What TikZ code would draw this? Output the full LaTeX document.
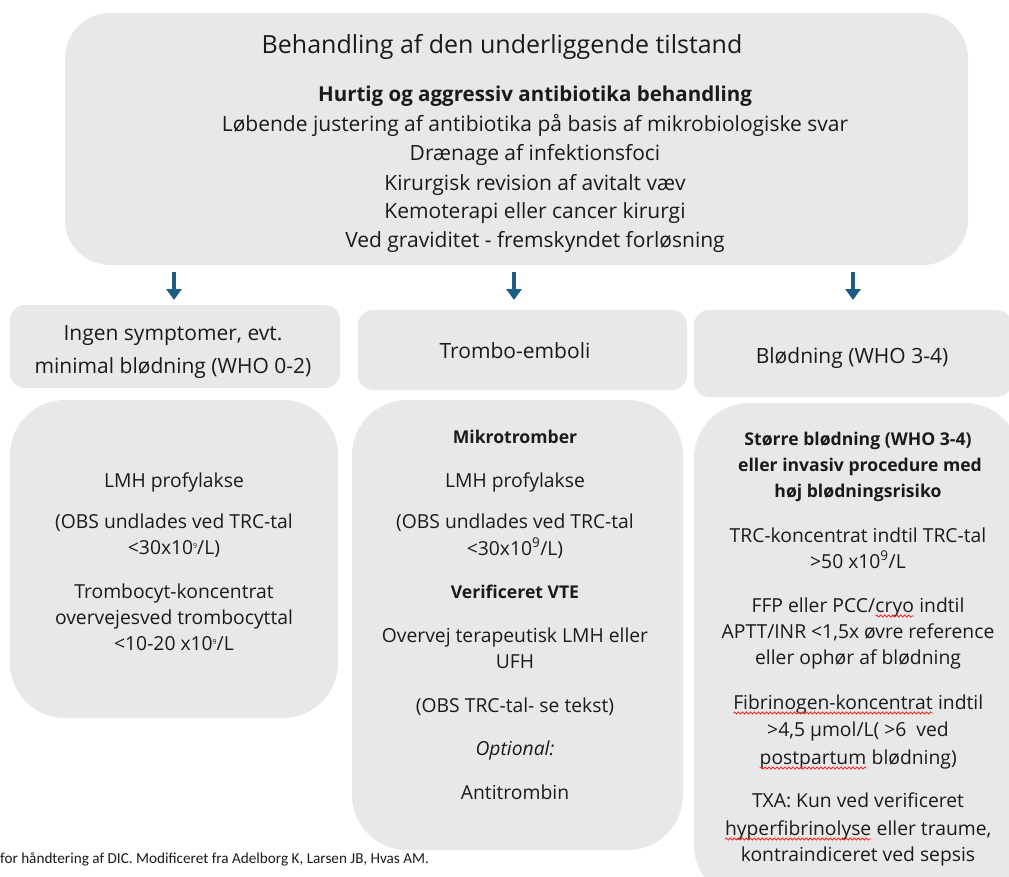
\documentclass[tikz,border=0pt]{standalone}
\usepackage{fontspec}
\setmainfont{Open Sans}
\newfontfamily\capfont{Carlito}
\usetikzlibrary{arrows.meta,decorations.pathmorphing}
\definecolor{boxgray}{HTML}{E8E8E8}
\definecolor{txtc}{HTML}{1A1A1A}
\definecolor{arrc}{HTML}{1F5C85}
\newcommand\redwave[1]{\tikz[baseline=(w.base)]{\node[inner sep=0pt,outer sep=0pt,anchor=base](w){#1};\draw[red!85!white,line width=0.8pt,decorate,decoration={snake,amplitude=1pt,segment length=4pt}] ([yshift=-4pt]w.base west) -- ([yshift=-4pt]w.base east);}}
\newcommand\tinysup[1]{\raisebox{0.55ex}{\fontsize{7}{7}\selectfont #1}}
\begin{document}
\begin{tikzpicture}[x=1pt,y=-1pt,
  box/.style={fill=boxgray,draw=none,inner sep=0,outer sep=0},
  t/.style={anchor=base,inner sep=0,text=txtc,font=\fontsize{19.3}{22}\selectfont},
  tb/.style={anchor=base,inner sep=0,text=txtc,font=\fontsize{17.6}{22}\bfseries},
  tt/.style={anchor=base,inner sep=0,text=txtc,font=\fontsize{21}{24}\selectfont},
  tm/.style={anchor=base,inner sep=0,text=txtc,font=\fontsize{21}{24}\selectfont},
  arr/.style={draw=arrc,line width=4pt,-{Triangle[length=11pt,width=15pt]}}]
\useasboundingbox (0,0) rectangle (1009,876);
\clip (0,0) rectangle (1009,876);
% boxes
\node[box,rounded corners=45pt,minimum width=903pt,minimum height=252pt] (top) at (516.5,139) {};
\node[box,rounded corners=15pt,minimum width=330pt,minimum height=83pt] (b1) at (175,346.5) {};
\node[box,rounded corners=15pt,minimum width=329pt,minimum height=80pt] (b2) at (522.5,350) {};
\node[box,rounded corners=15pt,minimum width=318pt,minimum height=87pt] (b3) at (853,353.5) {};
\node[box,rounded corners=55pt,minimum width=328pt,minimum height=318pt] (c1) at (174,559) {};
\node[box,rounded corners=55pt,minimum width=331pt,minimum height=450pt] (c2) at (517.5,625) {};
\node[box,rounded corners=55pt,minimum width=326pt,minimum height=497pt] (c3) at (857,651.5) {};
% arrows
\coordinate (a1) at (174,0);
\coordinate (a2) at (514,0);
\coordinate (a3) at (853,0);
\draw[arr,shorten <=7pt,shorten >=5pt] (top.south -| a1) -- (b1.north -| a1);
\draw[arr,shorten <=7pt,shorten >=10pt] (top.south -| a2) -- (b2.north -| a2);
\draw[arr,shorten <=7pt,shorten >=10pt] (top.south -| a3) -- (b3.north -| a3);
% top text
\node[t,font=\fontsize{25}{28}\selectfont] (title) at (502,53) {Behandling af den underliggende tilstand};
\node[tt,font=\fontsize{20.5}{24}\bfseries] (l1) at (535,101) {Hurtig og aggressiv antibiotika behandling};
\node[tt] (l2) at (535,131) {Løbende justering af antibiotika på basis af mikrobiologiske svar};
\node[tt] (l3) at (535,160) {Drænage af infektionsfoci};
\node[tt] (l4) at (535,190) {Kirurgisk revision af avitalt væv};
\node[tt] (l5) at (535,218.5) {Kemoterapi eller cancer kirurgi};
\node[tt] (l6) at (535,247.5) {Ved graviditet - fremskyndet forløsning};
% middle text
\node[tm] (m1a) at (173,340) {Ingen symptomer, evt.};
\node[tm] (m1b) at (173,373) {minimal blødning (WHO 0-2)};
\node[tm] (m2) at (515,358.5) {Trombo-emboli};
\node[tm] (m3) at (852,363.5) {Blødning (WHO 3-4)};
% column 1
\node[t] at (174,487) {LMH profylakse};
\node[t] at (174,528) {(OBS undlades ved TRC-tal};
\node[t] at (174,554) {<30x10\tinysup{9}/L)};
\node[t] at (174,598) {Trombocyt-koncentrat};
\node[t] at (174,624) {overvejesved trombocyttal};
\node[t] at (174,650) {<10-20 x10\tinysup{9}/L};
% column 2
\node[tb] at (515,443.5) {Mikrotromber};
\node[t] at (515,487) {LMH profylakse};
\node[t] at (515,528) {(OBS undlades ved TRC-tal};
\node[t] at (515,555) {<30x10\textsuperscript{9}/L)};
\node[tb] at (515,598.5) {Verificeret VTE};
\node[t] at (515,642) {Overvej terapeutisk LMH eller};
\node[t] at (515,668) {UFH};
\node[t] at (515,712) {(OBS TRC-tal- se tekst)};
\node[t,font=\fontsize{19.3}{22}\itshape] at (515,755) {Optional:};
\node[t] at (515,799) {Antitrombin};
% column 3
\node[tb] at (858,445.5) {Større blødning (WHO 3-4)};
\node[tb] at (860,471.5) {eller invasiv procedure med};
\node[tb] at (858,497.5) {høj blødningsrisiko};
\node[t] at (858,542) {TRC-koncentrat indtil TRC-tal};
\node[t] at (858,568) {>50 x10\textsuperscript{9}/L};
\node[t] at (858,612) {FFP eller PCC/\redwave{cryo} indtil};
\node[t] at (858,638) {APTT/INR <1,5x øvre reference};
\node[t] at (858,664) {eller ophør af blødning};
\node[t] at (858,709) {\redwave{Fibrinogen-koncentrat} indtil};
\node[t] at (858,736) {>4,5 µmol/L( >6 \ ved};
\node[t] at (858,764) {\redwave{postpartum} blødning)};
\node[t] at (858,807) {TXA: Kun ved verificeret};
\node[t] at (858,835) {\redwave{hyperfibrinolyse} eller traume,};
\node[t] at (858,861) {kontraindiceret ved sepsis};
% caption
\node[anchor=base west,inner sep=0,text=txtc,font=\capfont\fontsize{15.2}{17}\selectfont] (cap) at (0,863) {for håndtering af DIC. Modificeret fra Adelborg K, Larsen JB, Hvas AM.};
\end{tikzpicture}
\end{document}
